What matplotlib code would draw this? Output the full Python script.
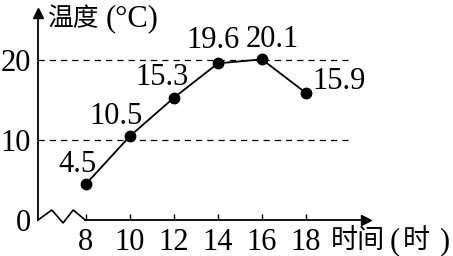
import matplotlib

matplotlib.use("Agg")
import matplotlib.pyplot as plt
import numpy as np

plt.rcParams["font.family"] = ["Liberation Serif", "Noto Sans CJK SC", "DejaVu Sans"]
plt.rcParams["axes.unicode_minus"] = False

# 数据
hours = [8, 10, 12, 14, 16, 18]
temps = [4.5, 10.5, 15.3, 19.6, 20.1, 15.9]
labels = ["4.5", "10.5", "15.3", "19.6", "20.1", "15.9"]
# 标注偏移 (像素)
offsets = [(-9, 20), (-14, 20), (-12, 20), (-5, 23), (10, 20), (6, 11)]
y_ticks = [0, 10, 20]

X0, X1 = 5.82, 21.05
Y0, Y1 = 0, 25.9
W, H = 453, 256

fig = plt.figure(figsize=(4.53, 2.56), dpi=100)
ax = fig.add_axes([38 / W, 36 / H, (373 - 38) / W, (220 - 13) / H])
ax.set_xlim(X0, X1)
ax.set_ylim(Y0, Y1)

# 坐标轴
for s in ("top", "right", "bottom"):
    ax.spines[s].set_visible(False)
ax.spines["left"].set_linewidth(1.3)
ax.plot([X0], [Y1], marker="^", color="black", markersize=7, clip_on=False)

# x 轴 (带折断)
zx = [X0, 6.45, 6.96, 7.42, 7.97]
zy = [0, 1.25, -0.37, 1.25, 0]
ax.plot(zx, zy, color="black", lw=1.2, clip_on=False)
ax.plot([7.97, X1 - 0.3], [0, 0], color="black", lw=1.3, clip_on=False)
ax.plot([X1 - 0.3], [0], marker=">", color="black", markersize=7, clip_on=False)

ax.set_xticks(hours)
ax.set_xticklabels([str(h) for h in hours])
ax.set_yticks(y_ticks)
ax.set_yticklabels([str(v) for v in y_ticks])
ax.tick_params(axis="x", direction="in", length=4, width=1, pad=6, labelsize=22)
ax.tick_params(axis="y", length=0, pad=5, labelsize=22)

# 虚线
for v in (10, 20):
    ax.plot([X0, 20], [v, v], color="black", lw=0.9, ls=(0, (5, 4)), clip_on=False)

# 折线
ax.plot(hours, temps, color="black", lw=1.3, marker="o", markersize=7.5, clip_on=False)

for h, t, lab, (dx, dy) in zip(hours, temps, labels, offsets):
    ha = "left" if lab == "15.9" else "center"
    ax.annotate(lab, (h, t), xytext=(dx * 0.72, dy * 0.72), textcoords="offset points",
                ha=ha, va="center", fontsize=22)

# 轴标题 (汉字与括号分开排, 括号用衬线体)
def put(px, py, s, size):
    fig.text(px / W, 1 - py / H, s, fontsize=size, ha="left", va="center")

put(48, 19, "温度", 18.5)
put(106, 19, "(°C)", 22)
put(331, 242, "时间", 19.5)
put(390, 242, "(", 22)
put(403, 242, "时", 19.5)
put(439, 242, ")", 22)

fig.savefig("out.png", dpi=100)
